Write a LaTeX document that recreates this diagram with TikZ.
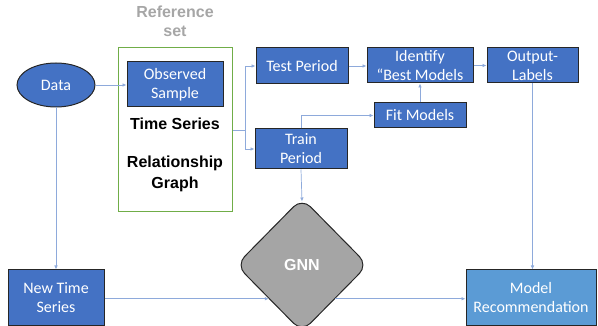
\documentclass[tikz,border=0pt]{standalone}
\usepackage{fontspec}
\setmainfont{Carlito}
\newfontfamily\arialb{Liberation Sans}
\usetikzlibrary{shapes.geometric,arrows.meta}
\definecolor{boxblue}{HTML}{4472C4}
\definecolor{lightblue}{HTML}{5B9BD5}
\definecolor{arrowc}{HTML}{8EAADB}
\definecolor{borderc}{HTML}{262626}
\definecolor{gnngray}{HTML}{A5A5A5}
\definecolor{refgray}{HTML}{A6A6A6}
\definecolor{greenc}{HTML}{70AD47}
\tikzset{
  bluebox/.style={draw=borderc, line width=1pt, fill=boxblue, text=white, font=\fontsize{16}{19}\selectfont, align=center, inner sep=0pt},
  arr/.style={draw=arrowc, line width=0.7pt, -{Latex[length=4pt,width=3.5pt]}},
  plain/.style={draw=arrowc, line width=0.7pt},
  boldtxt/.style={font=\arialb\bfseries\fontsize{16}{18}\selectfont, inner sep=0pt},
}
\begin{document}
\begin{tikzpicture}[x=1pt,y=-1pt]
\useasboundingbox (0,0) rectangle (598,326);
% reference set
\node[font=\arialb\bfseries\fontsize{16}{18}\selectfont, text=refgray, inner sep=0pt] (reft) at (175,12) {Reference};
\node[font=\arialb\bfseries\fontsize{16}{18}\selectfont, text=refgray, inner sep=0pt] (refs) at (175,31) {set};
\node[draw=greenc, line width=1pt, minimum width=114pt, minimum height=164pt, inner sep=0pt] (green) at (175,130) {};
\node[bluebox, minimum width=96pt, minimum height=45pt] (obs) at (175,84.5) {Observed\\Sample};
\node[boldtxt] (ts) at (175,124) {Time Series};
\node[boldtxt] (rel) at (175,163) {Relationship};
\node[boldtxt] (gr) at (175,184) {Graph};
% data
\node[ellipse, draw=borderc, line width=1pt, fill=boxblue, text=white, font=\fontsize{16}{19}\selectfont, minimum width=78pt, minimum height=44pt, inner sep=0pt] (data) at (56,85) {Data};
% right boxes
\node[bluebox, minimum width=92pt, minimum height=36pt] (test) at (302,66) {Test Period};
\node[bluebox, minimum width=106pt, minimum height=35pt] (ident) at (420,65.5) {Identify\\“Best Models};
\node[bluebox, minimum width=91pt, minimum height=35pt] (out) at (532.5,65.5) {Output-\\Labels};
\node[bluebox, minimum width=92pt, minimum height=25pt] (fit) at (420,115.5) {Fit Models};
\node[bluebox, minimum width=92pt, minimum height=40pt] (train) at (301,149) {Train\\Period};
% bottom
\node[bluebox, minimum width=96pt, minimum height=56pt] (nts) at (56,298) {New Time\\Series};
\node[bluebox, fill=lightblue, minimum width=130pt, minimum height=56pt] (mr) at (531,298) {Model\\Recommendation};
\node[diamond, aspect=1, draw=borderc, line width=1pt, fill=gnngray, rounded corners=12pt, minimum width=132pt, minimum height=134pt, inner sep=0pt, text=white, font=\arialb\bfseries\fontsize{16}{18}\selectfont] (gnn) at (302,265) {GNN};
% connectors
\draw[arr] (data.east) -- (obs.west |- data.east);
\coordinate (split) at (245,130);
\draw[plain] (green.east |- split) -- (split);
\draw[arr] (split) |- (test.west);
\draw[arr] (split) |- (train.west);
\draw[arr] (test.east) -- (ident.west |- test.east);
\draw[arr] (ident.east) -- (out.west);
\draw[arr] (fit.north) -- (ident.south);
\draw[arr] (train.north) |- (fit.west);
\draw[arr] (train.south) -- ([yshift=-4pt]gnn.north);
\draw[arr] (out.south) -- (out.south |- mr.north);
\draw[arr] (data.south) -- (nts.north);
\draw[arr] (nts.east |- gnn.south west) -- (gnn.south west);
\draw[arr] (gnn.south east) -- (gnn.south east -| mr.west);
\end{tikzpicture}
\end{document}
